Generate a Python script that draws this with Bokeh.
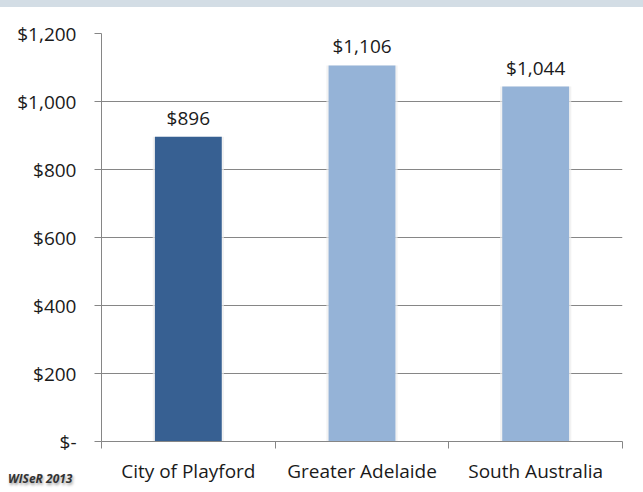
from bokeh.plotting import figure
from bokeh.models import FixedTicker, ColumnDataSource, Range1d, Div
from bokeh.layouts import column
from bokeh.core.properties import value
from bokeh.embed import file_html
from bokeh.resources import INLINE

categories = ["City of Playford", "Greater Adelaide", "South Australia"]
values = [896, 1106, 1044]
value_labels = ["$896", "$1,106", "$1,044"]
bar_colors = ["#376092", "#95B3D7", "#95B3D7"]
y_ticks = [0, 200, 400, 600, 800, 1000, 1200]
y_tick_labels = ["$-", "$200", "$400", "$600", "$800", "$1,000", "$1,200"]
source_note = "WISeR 2013"

FONT = "Open Sans"
FS = "19px"
xs = [i + 0.5 for i in range(len(categories))]

p = figure(width=643, height=485, output_backend="svg", toolbar_location=None,
           x_range=Range1d(0, len(categories)), y_range=Range1d(0, 1200),
           min_border_left=101, min_border_right=21, min_border_top=26, min_border_bottom=51,
           margin=0)
p.outline_line_color = None
p.background_fill_color = "white"

src = ColumnDataSource(dict(x=xs, top=values, color=bar_colors, lab=value_labels))
# subtle shadow / glow
p.vbar(x=xs, top=values, width=0.41, bottom=0,
       fill_color="#ececec", line_color=None, fill_alpha=0.7)
p.vbar(x="x", top="top", width=0.385, bottom=0, fill_color="color", line_color=None, source=src)
p.text(x="x", y="top", text="lab", source=src, text_align="center", text_baseline="bottom",
       y_offset=-6, text_font=value(FONT), text_font_size=FS, text_color="#1a1a1a")

# y axis
p.yaxis.ticker = FixedTicker(ticks=y_ticks)
p.yaxis.major_label_overrides = {t: l for t, l in zip(y_ticks, y_tick_labels)}
p.yaxis.major_label_text_font = FONT
p.yaxis.major_label_text_font_size = FS
p.yaxis.major_label_text_color = "#1a1a1a"
p.yaxis.axis_line_color = "#868686"
p.yaxis.major_tick_line_color = "#868686"
p.yaxis.major_tick_out = 7
p.yaxis.major_tick_in = 0
p.yaxis.minor_tick_line_color = None
p.yaxis.major_label_standoff = 18

# x axis: labels at centres, ticks at boundaries
p.xaxis.ticker = FixedTicker(ticks=xs, minor_ticks=list(range(len(categories) + 1)))
p.xaxis.major_label_overrides = {x: c for x, c in zip(xs, categories)}
p.xaxis.major_label_text_font = FONT
p.xaxis.major_label_text_font_size = FS
p.xaxis.major_label_text_color = "#1a1a1a"
p.xaxis.axis_line_color = "#868686"
p.xaxis.major_tick_line_color = None
p.xaxis.minor_tick_line_color = "#868686"
p.xaxis.minor_tick_out = 7
p.xaxis.minor_tick_in = 0
p.xaxis.major_label_standoff = 9

p.xgrid.grid_line_color = None
p.ygrid.grid_line_color = "#868686"
p.ygrid.grid_line_width = 1

band = Div(text="", width=643, height=7, margin=0,
           styles={"background-color": "#d3dde5"})
note = Div(text=source_note, width=85, height=18, margin=(-22, 0, 0, 8),
           styles={"font-family": "Open Sans", "font-size": "12px", "font-weight": "bold",
                   "font-style": "italic", "color": "#333333",
                   "text-shadow": "1px 2px 3px #9a9a9a"})

layout = column(band, p, note, spacing=0, margin=0)

open("out.html", "w").write(file_html(layout, INLINE))
